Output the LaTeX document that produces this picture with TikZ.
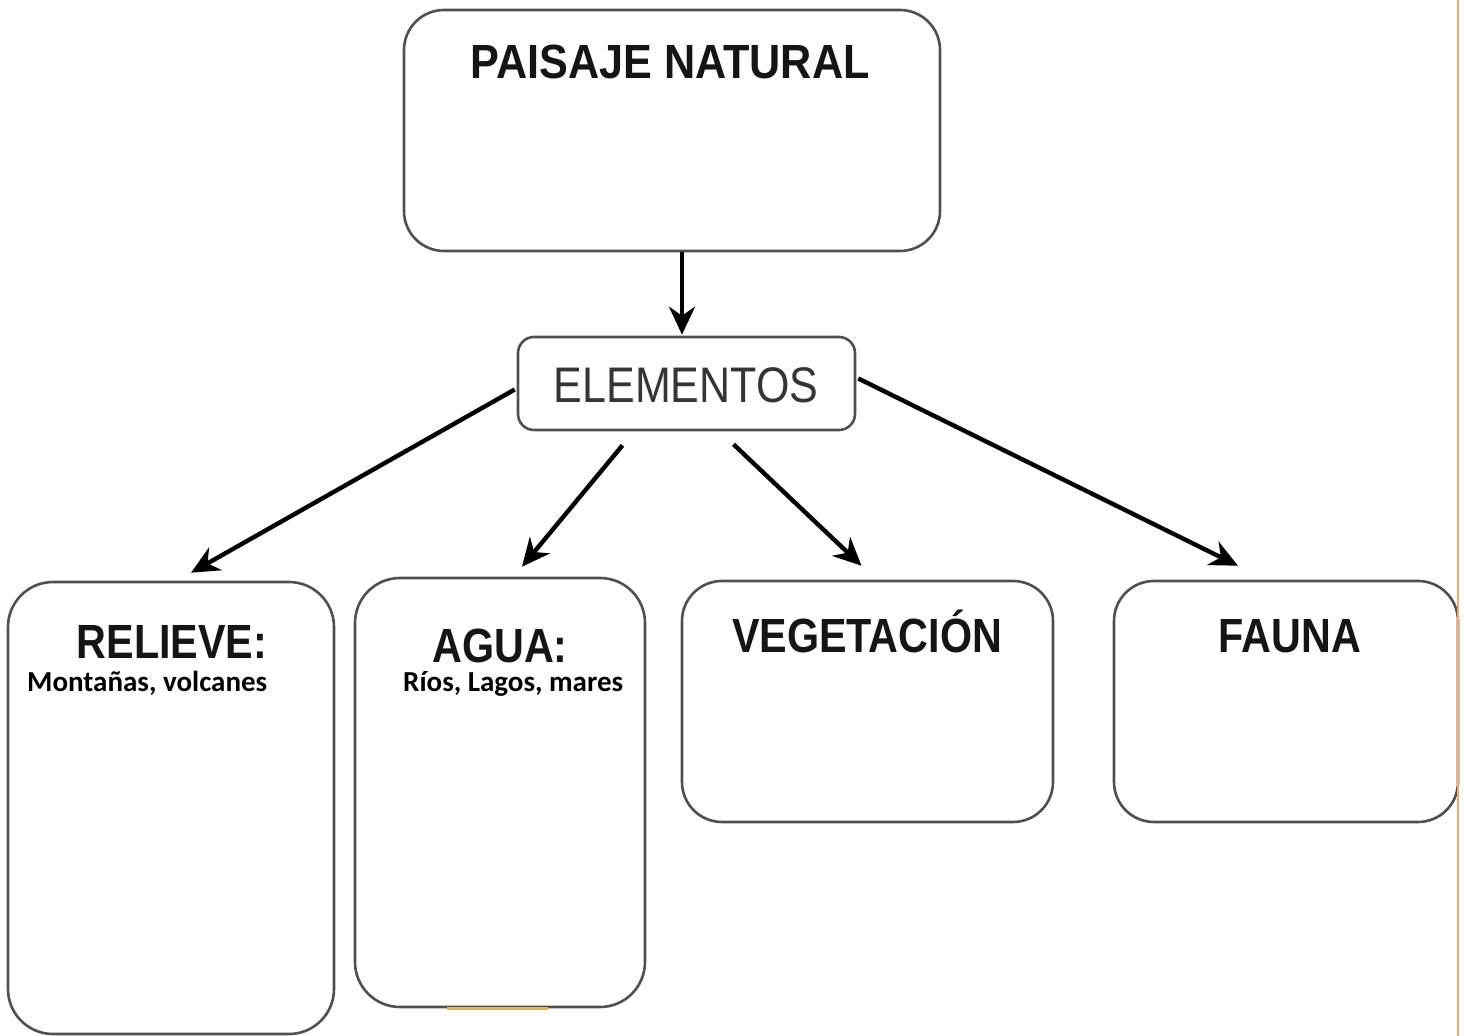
\documentclass[tikz,border=0pt]{standalone}
\usepackage{fontspec}
\usetikzlibrary{arrows.meta,calc}
\newfontfamily\hdfont[FakeStretch=0.86]{Liberation Sans}
\newfontfamily\hdwidefont[FakeStretch=0.9]{Liberation Sans}
\newfontfamily\bodyfont{Carlito}
\definecolor{bordergray}{HTML}{505050}
\definecolor{titleblack}{HTML}{151515}
\definecolor{elgray}{HTML}{353535}
\definecolor{edgeorange}{HTML}{F6A86C}
\definecolor{scanyellow}{HTML}{D6B85A}
\begin{document}
\begin{tikzpicture}[x=1pt,y=-1pt,
  box/.style={draw=bordergray, line width=2.6pt, rounded corners=40pt, fill=white, inner sep=0pt},
  ttl/.style={anchor=base, inner sep=0pt, text=titleblack, font=\hdfont\bfseries\fontsize{48}{48}\selectfont},
  sub/.style={anchor=base west, inner sep=0pt, text=black, font=\bodyfont\bfseries\fontsize{29}{29}\selectfont},
  conn/.style={line width=4.4pt, draw=black, -{Stealth[length=28pt,width=26pt,inset=9pt]}},
]
\fill[white] (0,0) rectangle (1465,1036);
\useasboundingbox (0,0) rectangle (1465,1036);

% boxes
\node[box, minimum width=536pt, minimum height=241pt] (paisaje) at (672,130.5) {};
\node[box, rounded corners=16pt, minimum width=337pt, minimum height=93pt] (elem) at (686.5,383.5) {};
\node[box, rounded corners=45pt, minimum width=326pt, minimum height=452pt] (relieve) at (171,808) {};
\node[box, rounded corners=45pt, minimum width=290pt, minimum height=429pt] (agua) at (500,792.5) {};
\node[box, minimum width=371pt, minimum height=241pt] (veg) at (867.5,701.5) {};
\node[box, minimum width=344pt, minimum height=241pt] (fauna) at (1286,701.5) {};

% titles
\node[ttl, font=\hdwidefont\bfseries\fontsize{48}{48}\selectfont] (tpaisaje) at (670,78) {PAISAJE NATURAL};
\node[ttl, text=elgray, font=\hdfont\fontsize{50}{50}\selectfont] (telem) at (686,402) {ELEMENTOS};
\node[ttl] (trelieve) at (172,658) {RELIEVE:};
\node[ttl] (tagua) at (500,662) {AGUA:};
\node[ttl] (tveg) at (867,652) {VEGETACIÓN};
\node[ttl] (tfauna) at (1290,652) {FAUNA};
\node[sub] (srelieve) at (27,691) {Montañas, volcanes};
\node[sub] (sagua) at (403,691) {Ríos, Lagos, mares};

% connector end points
\coordinate (e2) at ($(elem.south)+(-64,14)$);
\coordinate (e3) at ($(elem.south)+(47,13)$);
\coordinate (t1) at ($(relieve.north)+(20,-8)$);
\coordinate (t2) at ($(agua.north)+(22,-10)$);
\coordinate (t3) at ($(veg.north)+(-6,-14)$);
\coordinate (t4) at ($(fauna.north)+(-48,-14)$);

% connectors
\draw[conn] (paisaje.south -| elem.north) ++(-4.5,0) coordinate (p0) -- ($(elem.north)+(-4.5,-1)$);
\draw[conn] ($(elem.west)+(-2,6)$) -- (t1);
\draw[conn] (e2) -- (t2);
\draw[conn] (e3) -- (t3);
\draw[conn] ($(elem.east)+(2,-5)$) -- (t4);

% scan artefacts
\draw[scanyellow, line width=3pt] ($(agua.south)+(-53,0)$) -- ($(agua.south)+(48,0)$);
\draw[edgeorange, line width=2.6pt] (1458,0) -- (1458,1036);
\end{tikzpicture}
\end{document}
